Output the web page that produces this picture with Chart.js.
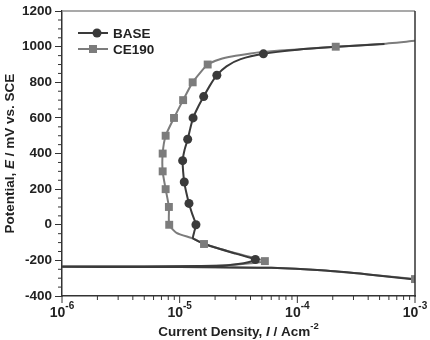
<!DOCTYPE html>
<html>
<head>
<meta charset="utf-8">
<script src="https://cdn.jsdelivr.net/npm/chart.js@4.4.1/dist/chart.umd.min.js"></script>
<style>
  body { margin: 0; background: #fff; }
  #wrap { width: 430px; height: 340px; }
</style>
</head>
<body>
<div id="wrap"><canvas id="polChart"></canvas></div>
<script>
// BASE curve (current density A/cm2, potential mV), cathodic end first
const baseCurveI = [1e-3, 4e-4, 1.6e-4, 6e-5, 2e-5, 5e-6, 1e-6,
  1e-6, 5e-6, 1.5e-5, 2.5e-5, 3.5e-5, 4.2e-5, 4.4e-5,
  3e-5, 2e-5, 1.6e-5, 1.3e-5, 1.33e-5, 1.375e-5,
  1.28e-5, 1.2e-5, 1.14e-5, 1.094e-5, 1.07e-5, 1.06e-5, 1.1e-5, 1.17e-5, 1.23e-5, 1.3e-5,
  1.43e-5, 1.6e-5, 1.8e-5, 2.07e-5, 2.5e-5, 3.3e-5, 5.15e-5, 1e-4, 2e-4, 5.5e-4];
const baseCurveE = [-307, -279, -256, -242, -238, -237, -236,
  -235, -234, -232, -228, -216, -203, -195,
  -162, -128, -105, -77, -40, 0,
  60, 120, 180, 240, 300, 360, 420, 480, 540, 600,
  660, 720, 780, 840, 890, 930, 960, 983, 998, 1015];
const baseMarkI = [4.4e-5, 1.375e-5, 1.2e-5, 1.094e-5, 1.06e-5, 1.17e-5, 1.3e-5, 1.6e-5, 2.07e-5, 5.15e-5];
const baseMarkE = [-195, 0, 120, 240, 360, 480, 600, 720, 840, 960];

// CE190 curve
const ceCurveI = [1e-3, 4e-4, 1.6e-4, 6e-5, 2e-5, 5e-6, 1e-6,
  1e-6, 1e-5, 2.4e-5, 4e-5, 5.3e-5,
  3e-5, 1.61e-5, 1.3e-5, 9.4e-6, 8.15e-6,
  8.1e-6, 7.6e-6, 7.17e-6, 7.17e-6, 7.6e-6, 8.95e-6, 1.07e-5, 1.29e-5, 1.73e-5,
  2.2e-5, 2.84e-5, 4e-5, 5.1e-5, 1e-4, 2.12e-4, 5e-4, 1e-3];
const ceCurveE = [-305, -279, -256, -242, -238, -237, -236,
  -235, -234, -227, -216, -204,
  -160, -108, -77, -45, 0,
  100, 200, 300, 400, 500, 600, 700, 800, 900,
  930, 947, 962, 971, 985, 1000, 1015, 1033];
const ceMarkI = [1e-3, 5.3e-5, 1.61e-5, 8.15e-6, 8.1e-6, 7.6e-6, 7.17e-6, 7.17e-6, 7.6e-6, 8.95e-6, 1.07e-5, 1.29e-5, 1.73e-5, 2.12e-4];
const ceMarkE = [-305, -204, -108, 0, 100, 200, 300, 400, 500, 600, 700, 800, 900, 1000];

// axes
const xMajor = [1e-6, 1e-5, 1e-4, 1e-3];
const xTickExp = ['-6', '-5', '-4', '-3'];
const yMin = -400, yMax = 1200, yStep = 200, yMinorStep = 50;

const BASE_COL = '#3a3a3a';
const CE_COL = '#7c7c7c';
const FONT = "'Liberation Sans', Arial, sans-serif";
const TXT = '#222';

const pts = (xs, ys) => xs.map((v, i) => ({x: v, y: ys[i]}));

// draws a row of text pieces with their own fonts / offsets
function richText(ctx, parts, x, y, align) {
    let w = 0;
    parts.forEach(p => { ctx.font = p.font; w += ctx.measureText(p.t).width; });
    let cx = align === 'center' ? x - w / 2 : x;
    parts.forEach(p => {
        ctx.font = p.font;
        ctx.fillText(p.t, cx, y + (p.dy || 0));
        cx += ctx.measureText(p.t).width;
    });
}

const decorations = {
    id: 'decorations',
    afterDraw(chart) {
        const {ctx, chartArea: a, scales: {x, y}} = chart;
        const seg = (x1, y1, x2, y2) => { ctx.beginPath(); ctx.moveTo(x1, y1); ctx.lineTo(x2, y2); ctx.stroke(); };
        ctx.save();
        // top + right frame
        ctx.lineWidth = 1.5;
        ctx.strokeStyle = '#8c8c8c';
        seg(a.left, a.top, a.right, a.top);
        ctx.strokeStyle = '#333';
        seg(a.right, a.top, a.right, a.bottom + 0.75);

        // x ticks (major + minor)
        ctx.lineWidth = 1;
        ctx.strokeStyle = '#333';
        xMajor.forEach((v, i) => {
            const px = x.getPixelForValue(v);
            seg(px, a.bottom, px, a.bottom + 7);
            if (i < xMajor.length - 1) {
                for (let k = 2; k <= 9; k++) {
                    const mx = x.getPixelForValue(v * k);
                    seg(mx, a.bottom, mx, a.bottom + 4);
                }
            }
        });
        // y minor ticks
        for (let v = yMin; v <= yMax; v += yMinorStep) {
            if (v % yStep === 0) continue;
            const py = y.getPixelForValue(v);
            seg(a.left - 4, py, a.left, py);
        }

        ctx.fillStyle = TXT;
        ctx.textBaseline = 'alphabetic';
        ctx.textAlign = 'left';
        // x tick labels 10^n
        xMajor.forEach((v, i) => {
            const px = x.getPixelForValue(v);
            richText(ctx, [
                {t: '10', font: `bold 14px ${FONT}`},
                {t: xTickExp[i], font: `bold 10px ${FONT}`, dy: -8}
            ], px, a.bottom + 21, 'center');
        });
        // x title
        richText(ctx, [
            {t: 'Current Density, ', font: `bold 13.5px ${FONT}`},
            {t: 'I', font: `italic bold 13.5px ${FONT}`},
            {t: ' / Acm', font: `bold 13.5px ${FONT}`},
            {t: '-2', font: `bold 9.5px ${FONT}`, dy: -7}
        ], (a.left + a.right) / 2, 336, 'center');
        // y title (rotated)
        ctx.save();
        ctx.translate(14, (a.top + a.bottom) / 2);
        ctx.rotate(-Math.PI / 2);
        richText(ctx, [
            {t: 'Potential, ', font: `bold 13.5px ${FONT}`},
            {t: 'E', font: `italic bold 13.5px ${FONT}`},
            {t: ' / mV vs. SCE', font: `bold 13.5px ${FONT}`}
        ], 0, 0, 'center');
        ctx.restore();

        // legend
        const rows = [
            {label: 'BASE', col: BASE_COL, shape: 'circle', y: 33},
            {label: 'CE190', col: CE_COL, shape: 'rect', y: 49}
        ];
        rows.forEach(r => {
            ctx.strokeStyle = r.col;
            ctx.fillStyle = r.col;
            ctx.lineWidth = 2;
            seg(78, r.y, 108, r.y);
            if (r.shape === 'circle') {
                ctx.beginPath(); ctx.arc(97, r.y, 4.5, 0, Math.PI * 2); ctx.fill();
            } else {
                ctx.fillRect(89, r.y - 4, 8, 8);
            }
            ctx.fillStyle = TXT;
            ctx.font = `bold 13.5px ${FONT}`;
            ctx.textBaseline = 'middle';
            ctx.fillText(r.label, 113, r.y + 1);
            ctx.textBaseline = 'alphabetic';
        });
        ctx.restore();
    }
};

const ctx = document.getElementById('polChart').getContext('2d');
const polChart = new Chart(ctx, {
    type: 'scatter',
    data: {
        datasets: [
            {
                label: 'BASE markers',
                data: pts(baseMarkI, baseMarkE),
                showLine: false,
                pointStyle: 'circle',
                pointRadius: 4.5,
                backgroundColor: BASE_COL,
                borderColor: BASE_COL,
                borderWidth: 0,
                order: 0
            },
            {
                label: 'CE190 markers',
                data: pts(ceMarkI, ceMarkE),
                showLine: false,
                pointStyle: 'rect',
                pointRadius: 5.6,
                backgroundColor: CE_COL,
                borderColor: CE_COL,
                borderWidth: 0,
                order: 1
            },
            {
                label: 'BASE',
                data: pts(baseCurveI, baseCurveE),
                showLine: true,
                pointRadius: 0,
                borderColor: BASE_COL,
                borderWidth: 2,
                tension: 0.2,
                order: 2
            },
            {
                label: 'CE190',
                data: pts(ceCurveI, ceCurveE),
                showLine: true,
                pointRadius: 0,
                borderColor: CE_COL,
                borderWidth: 2,
                tension: 0.2,
                order: 3
            }
        ]
    },
    options: {
        responsive: true,
        maintainAspectRatio: false,
        animation: false,
        layout: { padding: { top: 11, right: 15, left: 0, bottom: 0 } },
        plugins: {
            legend: { display: false },
            tooltip: { enabled: false }
        },
        scales: {
            x: {
                type: 'logarithmic',
                min: 1e-6,
                max: 1e-3,
                ticks: { display: false },
                grid: { display: false },
                border: { display: true, color: '#333', width: 1.5 },
                afterFit: s => { s.height = 44; }
            },
            y: {
                min: yMin,
                max: yMax,
                ticks: {
                    stepSize: yStep,
                    padding: 3,
                    color: TXT,
                    font: { family: FONT, size: 13.5, weight: 'bold' },
                    callback: v => String(v)
                },
                grid: { drawOnChartArea: false, tickLength: 7, color: '#333' },
                border: { display: true, color: '#333', width: 1.5 },
                afterFit: s => { s.width = 62; }
            }
        }
    },
    plugins: [decorations]
});
</script>
</body>
</html>
